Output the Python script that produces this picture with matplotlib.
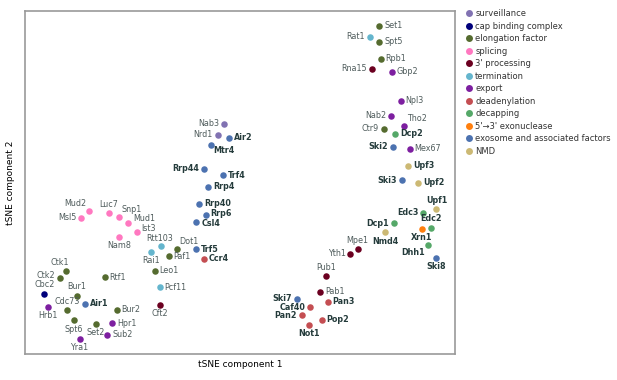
import matplotlib
matplotlib.use('Agg')
import matplotlib.pyplot as plt
from matplotlib.lines import Line2D

# categories and their colours (legend order)
CATEGORIES = ['surveillance', 'cap binding complex', 'elongation factor', 'splicing',
              "3' processing", 'termination', 'export', 'deadenylation', 'decapping',
              "5'\u21923' exonuclease", 'exosome and associated factors', 'NMD']
COLOURS = ['#8172b2', '#00007a', '#556b2f', '#ff78c0', '#6b0020', '#64b5cd',
           '#7d1fa0', '#c44e52', '#55a868', '#ff7f0e', '#4c72b0', '#ccb974']
BOLD_CATEGORIES = {'deadenylation', 'decapping', "5'\u21923' exonuclease",
                   'exosome and associated factors', 'NMD'}

# proteins, tSNE coordinates and category index
NAMES = ['Nab3', 'Nrd1',
         'Cbc2',
         'Ctk1', 'Ctk2', 'Rtf1', 'Leo1', 'Dot1', 'Paf1', 'Bur1', 'Cdc73', 'Bur2',
         'Spt6', 'Set2', 'Set1', 'Spt5', 'Rpb1', 'Ctr9',
         'Mud2', 'Msl5', 'Luc7', 'Snp1', 'Mud1', 'Ist3', 'Nam8',
         'Cft2', 'Mpe1', 'Yth1', 'Pub1', 'Pab1', 'Rna15',
         'Rtt103', 'Rai1', 'Pcf11', 'Rat1',
         'Hrb1', 'Hpr1', 'Sub2', 'Yra1', 'Gbp2', 'Npl3', 'Nab2', 'Tho2', 'Mex67',
         'Ccr4', 'Caf40', 'Pan2', 'Pan3', 'Pop2', 'Not1',
         'Dcp1', 'Dcp2', 'Edc3', 'Edc2', 'Dhh1',
         'Xrn1',
         'Rrp44', 'Trf4', 'Rrp4', 'Rrp40', 'Rrp6', 'Csl4', 'Trf5', 'Air1', 'Air2',
         'Mtr4', 'Ski7', 'Ski2', 'Ski3', 'Ski8',
         'Nmd4', 'Upf1', 'Upf2', 'Upf3']
X = [-3.9, -5.6,
     -48.9,
     -43.4, -45.1, -33.8, -21.3, -15.8, -17.8, -40.8, -43.2, -30.8,
     -41.6, -36.0, 34.8, 34.8, 35.2, 35.9,
     -37.7, -39.7, -32.8, -30.2, -28.0, -25.7, -30.2,
     -20.1, 29.4, 27.6, 21.5, 20.0, 33.0,
     -19.7, -22.3, -20.1, 32.4,
     -48.0, -31.9, -33.2, -40.1, 38.0, 40.2, 37.8, 41.0, 42.4,
     -9.0, 17.5, 15.4, 21.9, 20.4, 17.3,
     38.4, 38.8, 45.8, 47.8, 47.0,
     45.5,
     -9.1, -4.3, -7.9, -10.2, -8.6, -10.9, -11.0, -38.8, -2.8,
     -7.3, 14.2, 38.3, 40.4, 49.1,
     36.3, 49.1, 44.6, 42.0]
Y = [16.5, 13.8,
     -25.9,
     -20.2, -21.9, -21.8, -20.2, -14.7, -16.6, -26.4, -30.1, -30.0,
     -32.6, -33.4, 41.0, 37.1, 32.8, 15.3,
     -5.3, -6.9, -5.7, -6.8, -8.3, -10.4, -11.8,
     -28.8, -14.8, -15.9, -21.6, -25.4, 30.3,
     -13.9, -15.4, -24.3, 38.3,
     -29.3, -33.3, -36.2, -37.3, 29.6, 22.3, 18.5, 16.0, 10.3,
     -17.2, -29.3, -31.3, -27.9, -32.4, -33.8,
     -8.3, 14.0, -5.7, -9.4, -13.8,
     -9.8,
     5.3, 3.7, 0.8, -3.4, -6.3, -8.0, -14.8, -28.5, 13.1,
     11.3, -27.2, 10.8, 2.4, -16.9,
     -10.6, -4.8, 1.8, 6.0]
GROUP = ([0] * 2 + [1] * 1 + [2] * 15 + [3] * 7 + [4] * 6 + [5] * 4 + [6] * 9 +
         [7] * 6 + [8] * 5 + [9] * 1 + [10] * 14 + [11] * 4)

# where each label sits relative to its dot
SIDES = ['l', 'l',
         't',
         'tc', 'lu', 'r', 'r', 'tr', 'r', 't', 't', 'r',
         'b', 'b', 'r', 'r', 'r', 'l',
         'tl', 'l', 't', 'tr', 'ru3', 'ru2', 'b',
         'b', 't', 'l', 't', 'r', 'l',
         't2', 'b', 'r', 'l',
         'b', 'r', 'r', 'b', 'r', 'r', 'l', 'tr', 'r',
         'r', 'l', 'l', 'r', 'r', 'b',
         'l', 'r', 'l', 't', 'bl',
         'b',
         'l', 'r', 'r', 'r', 'ru', 'rd', 'r', 'r', 'r',
         'br', 'l', 'l', 'l', 'b',
         'b', 't', 'r', 'r']

OFFSETS = {'r': ((3.5, 0), 'left', 'center'),
           'ru': ((3.5, 1.5), 'left', 'center'),
           'ru2': ((3, 2.5), 'left', 'center'),
           'ru3': ((3.5, 3.5), 'left', 'center'),
           'rd': ((3.5, -1), 'left', 'center'),
           'l': ((-3.5, 0), 'right', 'center'),
           'lu': ((-3.5, 1.5), 'right', 'center'),
           't': ((0, 3), 'center', 'bottom'),
           't2': ((-1, 2), 'center', 'bottom'),
           'tc': ((-5, 2.5), 'center', 'bottom'),
           'b': ((0, -3), 'center', 'top'),
           'tl': ((-2, 2), 'right', 'bottom'),
           'tr': ((2, 2), 'left', 'bottom'),
           'bl': ((-2, -2), 'right', 'top'),
           'br': ((2, -1), 'left', 'top')}

fig = plt.figure(figsize=(6.17, 3.8), dpi=100)
ax = fig.add_axes([25 / 617, 1 - 354 / 380, 430 / 617, 343 / 380])

for i, (cat, col) in enumerate(zip(CATEGORIES, COLOURS)):
    xs = [x for x, g in zip(X, GROUP) if g == i]
    ys = [y for y, g in zip(Y, GROUP) if g == i]
    ax.scatter(xs, ys, s=22, color=col, linewidths=0, zorder=3)

for name, x, y, g, side in zip(NAMES, X, Y, GROUP, SIDES):
    bold = CATEGORIES[g] in BOLD_CATEGORIES
    off, ha, va = OFFSETS[side]
    ax.annotate(name, (x, y), xytext=off, textcoords='offset points', ha=ha, va=va,
                fontsize=5.8, fontweight='bold' if bold else 'normal',
                color='#243b3b' if bold else '#4f5c5c')

ax.set_xlim(-53.75, 53.75)
ax.set_ylim(-41, 44.75)
ax.set_xticks([])
ax.set_yticks([])
for sp in ax.spines.values():
    sp.set_color('#999999')
    sp.set_linewidth(1.2)
ax.set_xlabel('tSNE component 1', fontsize=6.5, labelpad=4)
ax.set_ylabel('tSNE component 2', fontsize=6.5, labelpad=7)

handles = [Line2D([], [], marker='o', linestyle='', markersize=5, markeredgewidth=0,
                  color=c) for c in COLOURS]
fig.legend(handles, CATEGORIES, loc='upper left', bbox_to_anchor=(461 / 617, 1 - 6 / 380),
           frameon=False, fontsize=6, handletextpad=0.3, labelspacing=0.42,
           handlelength=1.0, borderaxespad=0, labelcolor='#333333')

fig.savefig('out.png', dpi=100)
